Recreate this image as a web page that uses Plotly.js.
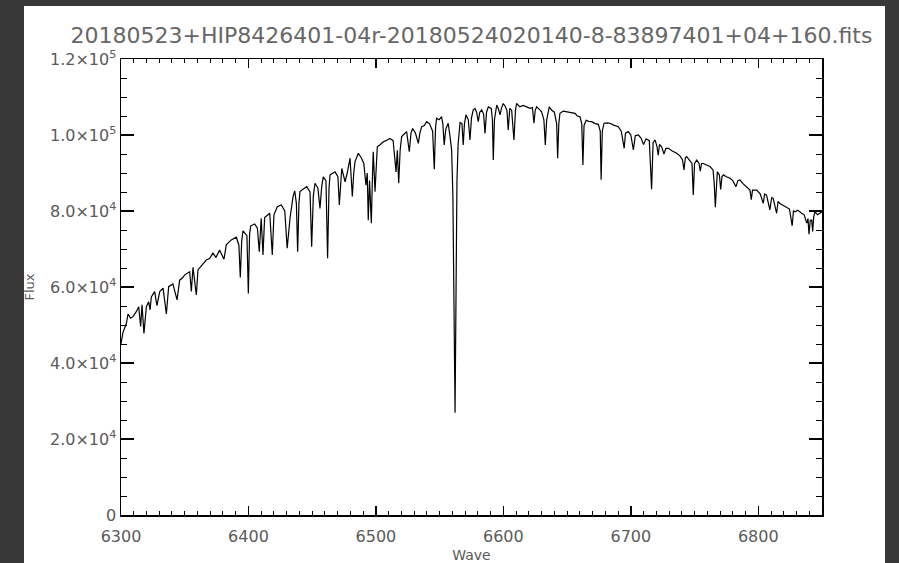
<!DOCTYPE html>
<html>
<head>
<meta charset="utf-8">
<script src="https://cdn.plot.ly/plotly-3.0.1.min.js"></script>
<style>html,body{margin:0;padding:0;background:#383838;}#chart{width:899px;height:563px;}</style>
</head>
<body>
<div id="chart"></div>
<script>
const chartTitle = "20180523+HIP8426401-04r-20180524020140-8-83897401+04+160.fits";
const xTitle = "Wave";
const yTitle = "Flux";

const wave = [
6300.0,6301.5,6304.2,6305.5,6307.5,6309.4,6312.0,6313.9,6315.4,6316.5,6318.0,6319.9,6321.7,6322.8,6323.8,6326.4,6328.2,6330.4,6333.0,6335.6,
6337.4,6340.7,6344.0,6346.0,6348.0,6350.0,6353.9,6355.2,6356.5,6359.1,6360.4,6363.0,6366.9,6369.5,6372.1,6374.5,6377.4,6380.8,6382.6,6386.5,
6390.5,6392.5,6393.6,6394.7,6395.7,6398.8,6399.9,6400.9,6401.8,6404.9,6407.0,6408.5,6409.5,6410.0,6411.4,6412.7,6416.7,6418.7,6420.0,6422.6,
6425.8,6428.5,6430.4,6432.6,6435.0,6436.3,6437.6,6438.6,6439.6,6440.4,6443.0,6445.7,6448.3,6449.6,6450.9,6452.2,6454.5,6456.1,6457.5,6458.7,
6460.8,6462.1,6463.2,6464.0,6467.9,6470.2,6471.3,6472.5,6473.2,6475.8,6477.5,6479.7,6481.5,6482.6,6483.6,6486.2,6488.5,6490.5,6492.2,6493.2,
6494.0,6495.0,6496.4,6497.2,6497.9,6499.3,6500.2,6501.1,6503.5,6505.8,6508.5,6511.0,6513.5,6515.8,6516.8,6517.9,6519.0,6520.2,6522.0,6524.1,
6526.2,6527.5,6528.8,6531.0,6533.3,6534.5,6535.9,6538.0,6539.8,6542.0,6544.5,6545.8,6546.8,6547.6,6549.5,6551.5,6552.5,6553.6,6554.8,6556.7,
6558.0,6559.4,6560.4,6561.2,6562.1,6562.9,6563.6,6564.5,6566.0,6567.5,6568.5,6569.5,6570.7,6572.5,6573.8,6575.0,6576.4,6577.7,6579.0,6580.3,
6581.5,6583.0,6584.5,6585.6,6586.8,6588.2,6590.5,6591.4,6592.1,6593.0,6594.8,6596.0,6597.4,6598.5,6599.9,6601.5,6602.8,6603.8,6605.0,6606.5,
6608.3,6609.5,6610.4,6613.0,6615.5,6618.3,6621.0,6622.8,6624.0,6625.0,6626.1,6628.0,6630.0,6631.8,6632.9,6634.0,6636.0,6638.0,6640.0,6641.8,
6642.6,6643.5,6644.4,6647.0,6649.6,6652.5,6656.2,6658.0,6660.1,6661.5,6662.4,6663.3,6665.0,6667.0,6669.3,6672.0,6674.5,6676.0,6676.7,6677.6,
6679.0,6681.5,6683.6,6686.5,6690.2,6692.5,6694.8,6695.8,6698.0,6700.0,6702.0,6703.5,6705.9,6708.0,6710.0,6712.0,6714.5,6716.3,6717.5,6719.0,
6720.5,6721.5,6722.5,6724.2,6726.0,6727.5,6729.5,6732.5,6736.0,6738.5,6740.5,6741.7,6742.8,6743.8,6746.0,6748.0,6749.0,6750.0,6751.7,6753.5,
6754.5,6755.5,6756.9,6759.5,6762.1,6764.5,6765.5,6766.3,6767.1,6767.9,6769.5,6770.5,6771.5,6772.6,6775.0,6777.8,6780.0,6782.5,6784.0,6785.6,
6788.0,6790.9,6793.5,6794.5,6795.5,6798.7,6801.5,6803.9,6805.0,6806.5,6809.1,6810.5,6811.7,6814.4,6815.5,6817.0,6819.5,6822.2,6824.5,6826.6,
6827.6,6828.8,6831.0,6834.0,6836.0,6838.0,6839.0,6839.8,6840.8,6841.9,6842.7,6843.5,6844.5,6846.5,6848.5,6850.0
];

const flux = [
45000,48000,50400,52900,51800,52200,53500,54800,49600,55300,47800,54800,56100,54000,57400,58800,55100,58800,59700,52900,
60100,60800,56600,61800,62300,63200,64000,58800,65200,57900,64500,65500,67100,67500,68900,67800,69700,67300,71100,72400,
73100,71000,62500,72000,74800,73500,58300,74000,76100,76600,75500,69300,75000,78100,68400,78300,79400,68400,79000,81100,
81600,80000,70200,78100,83800,85300,82000,69300,82000,85100,85800,86400,85000,70600,84000,87300,86000,80700,86500,89000,
88000,67600,86000,89500,90300,89000,81600,88000,91200,87700,90000,93900,83800,90000,93000,95200,94000,92500,86800,90000,
77600,88000,76800,88000,95600,85100,93000,96900,97500,98200,98600,99100,98500,90300,96000,87300,96000,99600,100200,100900,
95600,100500,101700,100500,97800,100500,102200,102500,103500,103000,101000,91000,102000,104400,104000,104800,103000,97400,101500,103100,
100000,96100,84000,60000,26900,60000,88000,97500,103300,103000,97400,103000,105300,104000,98700,104500,106600,107000,106000,103500,
106000,106600,105500,100400,106000,107400,107000,104000,93400,104000,107900,107000,105300,107000,108300,107500,106500,101300,107000,106500,
98700,106500,108300,107400,107800,107400,107000,107200,103100,106500,107400,106800,106100,104000,97400,104000,107400,106500,106000,103000,
93900,103000,105700,106300,106100,105800,105700,105000,104800,103000,92100,102500,103900,103600,103500,103000,102800,101000,88200,101000,
103100,103200,103100,102600,102200,101000,96500,100500,100900,100000,96100,99800,100000,99200,97500,99000,98500,85700,98000,98700,
97000,94700,97500,96900,95000,96500,96500,95800,95200,94500,93500,90800,94000,94300,93500,92500,84200,92500,93400,92500,
90500,92500,92500,92000,91700,90800,87000,81000,88000,90300,89500,85700,89000,89500,89000,88600,88000,86400,88000,88200,
87200,86400,85500,83000,85500,85500,84500,82000,84500,84200,80300,83500,83300,79400,82500,82000,81500,81100,80500,76100,
80000,79800,80200,79400,79000,76800,78000,73900,77500,77600,74600,78500,79800,79000,79500,79800
];

const xTickVals = [6300, 6400, 6500, 6600, 6700, 6800];
const xTickText = ["6300", "6400", "6500", "6600", "6700", "6800"];
const yTickVals = [0, 20000, 40000, 60000, 80000, 100000, 120000];
const yTickText = ["0", "2.0×10<sup>4</sup>", "4.0×10<sup>4</sup>", "6.0×10<sup>4</sup>", "8.0×10<sup>4</sup>", "1.0×10<sup>5</sup>", "1.2×10<sup>5</sup>"];

const FONT = "DejaVu Sans, Liberation Sans, sans-serif";
const TXT = "#5a5a5a";

const trace = {
  x: wave, y: flux, type: "scatter", mode: "lines",
  line: {color: "#000000", width: 1.2},
  hoverinfo: "skip", showlegend: false
};

const layout = {
  width: 899, height: 563,
  margin: {l: 121, r: 77, t: 59, b: 48, pad: 0},
  paper_bgcolor: "#383838",
  plot_bgcolor: "#ffffff",
  font: {family: FONT, color: TXT},
  title: {
    text: chartTitle,
    font: {family: FONT, size: 22, color: "#666666"},
    xref: "paper", x: 0.5, xanchor: "center",
    yref: "container", y: 1 - 35/563, yanchor: "middle"
  },
  xaxis: {
    range: [6300, 6850], autorange: false,
    tickmode: "array", tickvals: xTickVals, ticktext: xTickText,
    ticks: "inside", ticklen: 9, tickwidth: 1.5, tickcolor: "#000",
    showline: true, linecolor: "#000", linewidth: 1.5, mirror: "ticks",
    showgrid: false, zeroline: false,
    ticklabelstandoff: 6,
    minor: {dtick: 10, tick0: 6300, ticks: "inside", ticklen: 4, tickwidth: 1, tickcolor: "#000", showgrid: false},
    tickfont: {family: FONT, size: 16, color: TXT},
    title: {text: xTitle, font: {family: FONT, size: 14, color: TXT}, standoff: 9}
  },
  yaxis: {
    range: [0, 120000], autorange: false,
    tickmode: "array", tickvals: yTickVals, ticktext: yTickText,
    ticks: "inside", ticklen: 13, tickwidth: 1.5, tickcolor: "#000",
    showline: true, linecolor: "#000", linewidth: 1.5, mirror: "ticks",
    showgrid: false, zeroline: false,
    minor: {dtick: 5000, tick0: 0, ticks: "inside", ticklen: 6, tickwidth: 1, tickcolor: "#000", showgrid: false},
    tickfont: {family: FONT, size: 16, color: TXT},
    title: {text: yTitle, font: {family: FONT, size: 13, color: TXT}, standoff: 12}
  },
  shapes: [{
    type: "rect", layer: "below", xref: "paper", yref: "paper",
    x0: (24 - 121) / 701, x1: (885 - 121) / 701,
    y0: -0.12, y1: (515 - 6) / 456,
    fillcolor: "#ffffff", line: {width: 0}
  }]
};

Plotly.newPlot("chart", [trace], layout, {displayModeBar: false, staticPlot: true});
</script>
</body>
</html>
